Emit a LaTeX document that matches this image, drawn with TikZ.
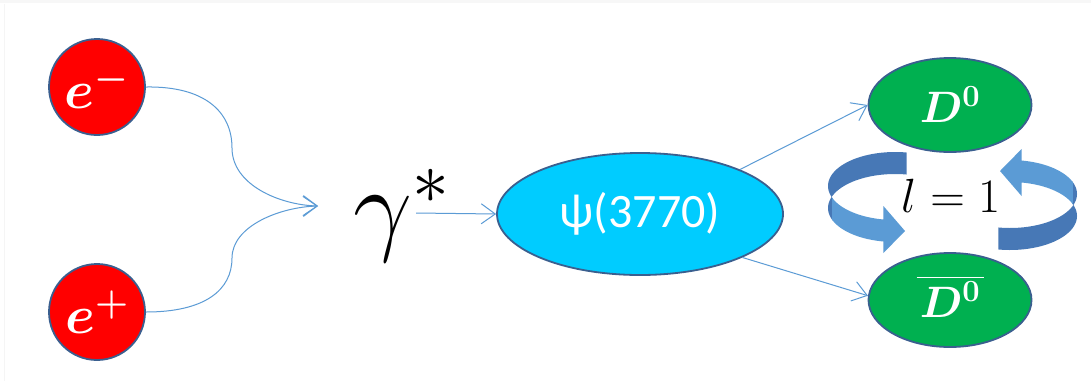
\RequirePackage{fix-cm}
\documentclass[tikz,border=0pt]{standalone}
\usepackage{fontspec}
\newfontfamily\carl{Carlito}
\usetikzlibrary{shapes.geometric,arrows.meta}
\definecolor{redf}{HTML}{FF0000}
\definecolor{edgec}{HTML}{3A5F8F}
\definecolor{cyanf}{HTML}{00CCFF}
\definecolor{greenf}{HTML}{00B050}
\definecolor{linkc}{HTML}{5B9BD5}
\definecolor{ribdark}{HTML}{4778B6}
\definecolor{riblight}{HTML}{5B9BD5}
\tikzset{
  particle/.style={circle, fill=redf, draw=edgec, line width=1.8pt, minimum size=96pt, inner sep=0pt, text=white, font=\fontsize{54}{54}\selectfont\boldmath},
  meson/.style={ellipse, fill=greenf, draw=edgec, line width=1.8pt, minimum width=163pt, minimum height=94pt, inner sep=0pt, text=white, font=\fontsize{44}{44}\selectfont\boldmath},
  resonance/.style={ellipse, fill=cyanf, draw=edgec, line width=1.8pt, minimum width=286pt, minimum height=122pt, inner sep=0pt, text=white, font=\carl\fontsize{48}{48}\selectfont},
  linkline/.style={draw=linkc, line width=1pt, -{Straight Barb[length=14pt,width=20pt]}},
  ribback/.style={fill=ribdark},
  ribfront/.style={fill=riblight},
}
\newcommand{\ribbonarrow}{%
  \fill[ribback] plot[domain=-80:-202, samples=40] ({895+67*cos(\x)},{186+34*sin(\x)})
    -- plot[domain=-202:-80, samples=40] ({895+67*cos(\x)},{208+34*sin(\x)}) -- cycle;
  \fill[ribfront] plot[domain=160:100, samples=40] ({895+67*cos(\x)},{186+34*sin(\x)})
    -- (883.4,206) -- (905,231) -- (883.4,253)
    -- plot[domain=100:160, samples=40] ({895+67*cos(\x)},{208+34*sin(\x)}) -- cycle;
}
\begin{document}
\begin{tikzpicture}[x=1pt,y=-1pt]
  \useasboundingbox (0,0) rectangle (1091,381);
  \fill[white] (0,0) rectangle (1091,381);
  \fill[gray!6] (0,0) rectangle (1091,3);
  \draw[gray!8, line width=1pt] (4.5,4) -- (4.5,381);

  % nodes
  \node[particle] (em) at (97,87) {$e^{-}$};
  \node[particle] (ep) at (97,312) {$e^{+}$};
  \node[inner sep=0pt] (gam) at (402,216) {\fontsize{105}{105}\selectfont$\gamma^{*}$};
  \node[resonance] (psi) at (640,214) {ψ(3770)};
  \node[meson] (D0) at (950,105) {$D^{0}$};
  \node[meson] (Db) at (950,300) {$\vphantom{D^{0}}\smash{\overline{\hbox to 67pt{\hss\rule{0pt}{39pt}$D^{0}$\hss}}}$};
  \node[inner sep=0pt] (ell) at (951,196) {\fontsize{48}{48}\selectfont$l=1$};

  \coordinate (join) at (318,206);
  \coordinate (gout) at (416,213);

  % connectors
  \draw[linkline] (em.east) .. controls (205,86) and (232,112) .. (232,148)
    .. controls (232,185) and (280,205) .. (join);
  \draw[linkline] (ep.east) .. controls (205,312) and (232,290) .. (232,258)
    .. controls (232,226) and (280,207) .. (join);
  \draw[linkline] (gout) -- (psi.west);
  \draw[linkline] (psi.24) -- (D0.west);
  \draw[linkline] (psi.-23) -- (Db.177);

  % l=1 rotation ribbons
  \ribbonarrow
  \begin{scope}[rotate around={180:(952.5,201)}]
    \ribbonarrow
  \end{scope}
\end{tikzpicture}
\end{document}
